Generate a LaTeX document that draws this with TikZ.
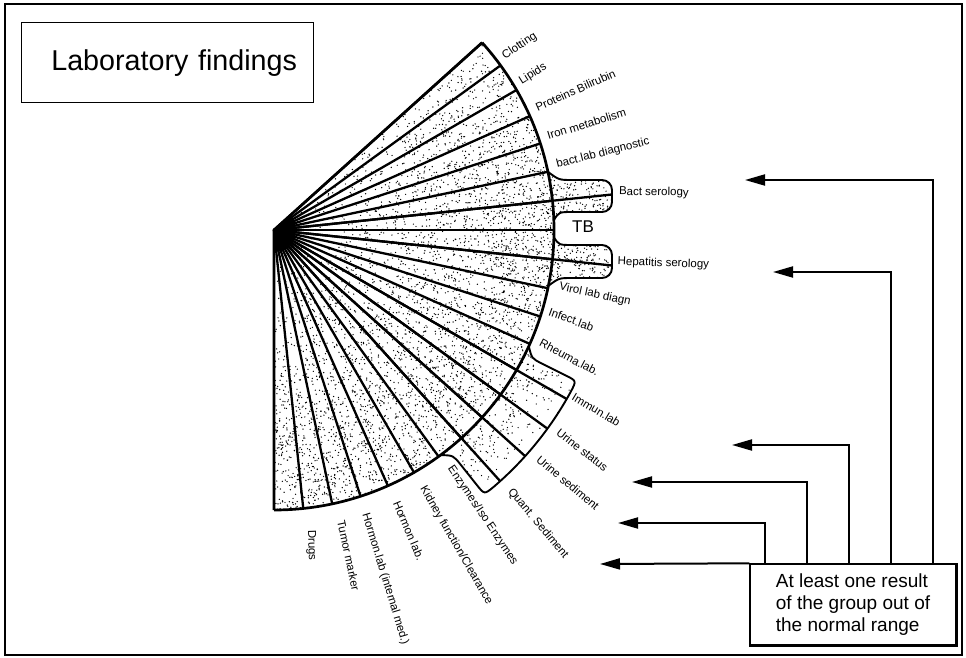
\documentclass[tikz,border=0pt]{standalone}
\usepackage{fontspec}
\setmainfont{Liberation Sans}
\usepackage{tikz}
\usetikzlibrary{arrows.meta, positioning, calc}

\begin{document}
\begin{tikzpicture}[x=1pt, y=1pt,
    spoke/.style={line width=2.3pt},
    rim/.style={line width=2.7pt},
    lobe/.style={line width=1.9pt},
    lab/.style={anchor=west, inner sep=0pt, font=\fontsize{11.5}{13}\selectfont},
    arr/.style={line width=2pt, -{Triangle[length=20pt, width=11pt]}},
    box/.style={draw, line width=1.4pt, align=left}]

    \useasboundingbox (0,0) rectangle (966,657);
    \draw[line width=1.2pt] (5,2) rectangle (962,653);

    \node[draw, line width=1pt, text width=260pt, inner xsep=16pt, align=right,
          minimum height=80pt, font=\fontsize{28.7}{32}\selectfont] (title) at (167,594) {Laboratory findings};

    % the fan, centre at the left
    \begin{scope}[shift={(274,427)}]
      \begin{scope}
        \clip (0,0) -- (42:280) arc[start angle=42, end angle=-90, radius=280] -- cycle
          (12:280) .. controls (285,50) .. (298,50) -- (328,50) arc[start angle=90, end angle=0, radius=10]
            -- (338,28) arc[start angle=0, end angle=-90, radius=10] -- (298,18) .. controls (285,18) .. (2:280) -- cycle
          (-1.5:280) .. controls (285,-15) .. (298,-15) -- (328,-15) arc[start angle=90, end angle=0, radius=10]
            -- (338,-38) arc[start angle=0, end angle=-90, radius=10] -- (298,-48) .. controls (285,-48) .. (-11.5:280) -- cycle
          (-24.5:280) .. controls (-26.5:288) .. (-26.5:300) -- (-26.5:326) .. controls (-26.5:338) .. (-28.5:338)
            arc[start angle=-28.5, end angle=-49.5, radius=338] .. controls (-51.5:338) .. (-51.5:326)
            -- (-51.5:300) .. controls (-51.5:288) .. (-53.5:280) -- cycle;
        \pgfmathsetseed{4711}
        \foreach \i in {1,...,6000}
          \fill ({-90+132*rnd}:{340*sqrt(rnd)}) circle (0.7);
      \end{scope}

      % group outlines
      \draw[lobe] (12:280) .. controls (285,50) .. (298,50) -- (328,50) arc[start angle=90, end angle=0, radius=10]
        -- (338,28) arc[start angle=0, end angle=-90, radius=10] -- (298,18) .. controls (285,18) .. (2:280);
      \draw[lobe] (-1.5:280) .. controls (285,-15) .. (298,-15) -- (328,-15) arc[start angle=90, end angle=0, radius=10]
        -- (338,-38) arc[start angle=0, end angle=-90, radius=10] -- (298,-48) .. controls (285,-48) .. (-11.5:280);
      \draw[lobe] (-24.5:280) .. controls (-26.5:288) .. (-26.5:300) -- (-26.5:326) .. controls (-26.5:338) .. (-28.5:338)
        arc[start angle=-28.5, end angle=-49.5, radius=338] .. controls (-51.5:338) .. (-51.5:326)
        -- (-51.5:300) .. controls (-51.5:288) .. (-53.5:280);

      \foreach \j in {0,...,22}
        \draw[spoke] (0,0) -- ({42-6*\j}:280);
      \foreach \a/\r in {6/340, -6/340, -30/338, -36/338, -42/338, -48/338}
        \draw[spoke] (0,0) -- (\a:\r);

      \draw[rim] (42:280) arc[start angle=42, end angle=-90, radius=280];
      \draw[rim] (42:280) -- (0,0) -- (-90:280);
      \fill (0,0) -- (42:22) arc[start angle=42, end angle=-90, radius=22] -- cycle;

      \foreach \t/\r/\rot/\txt [count=\k] in {
          37/287/34/Clotting, 31/287/32/Lipids, 25/289/24/Proteins Bilirubin,
          19/289/17/Iron metabolism, 13/290/14/bact.lab diagnostic,
          6.3/347/-1/Bact serology, -5.3/345/-2/Hepatitis serology,
          -11.3/291/-12/Virol lab diagn, -16.5/287/-20/Infect.lab,
          -22.8/289/-28/Rheuma.lab., -29/342/-31/Immun.lab,
          -35.3/348/-38/Urine status, -40.8/349/-40/Urine sediment,
          -47.8/351/-50/Quant. Sediment, -53.4/295/-56/{Enzymes/Iso Enzymes},
          -60/297/-60/{Kidney function/Clearance}, -65.7/298/-67/Hormon lab.,
          -72.2/298/-73/Hormon.lab (internal med.), -77/298/-78/Tumor marker,
          -83/302/-88/Drugs}
        \node[lab, rotate=\rot] (lab\k) at (\t:\r) {\txt};

      \node[font=\fontsize{17}{17}\selectfont, inner sep=0pt] (tb) at (309,3) {TB};
    \end{scope}

    \node[box, minimum width=206pt, minimum height=81pt,
          font=\fontsize{19}{21.7}\selectfont] (result) at (853,52.5)
          {At least one result\\of the group out of\\the normal range};
    \draw[line width=2.6pt] (result.north east) -- (result.south east) -- (result.south west);

    \coordinate (tipBact) at (745,477);
    \coordinate (tipHep) at (773,385);
    \coordinate (tipUst) at (732,212);
    \coordinate (tipUsed) at (632,175);
    \coordinate (tipQuant) at (618,134);
    \coordinate (tipLow) at (600,93);

    \draw[arr] ([xshift=184pt]result.north west) |- (tipBact);
    \draw[arr] ([xshift=142pt]result.north west) |- (tipHep);
    \draw[arr] ([xshift=100pt]result.north west) |- (tipUst);
    \draw[arr] ([xshift=58pt]result.north west) |- (tipUsed);
    \draw[arr] ([xshift=16pt]result.north west) |- (tipQuant);
    \draw[arr] (result.north west) -- (tipLow);

\end{tikzpicture}
\end{document}
